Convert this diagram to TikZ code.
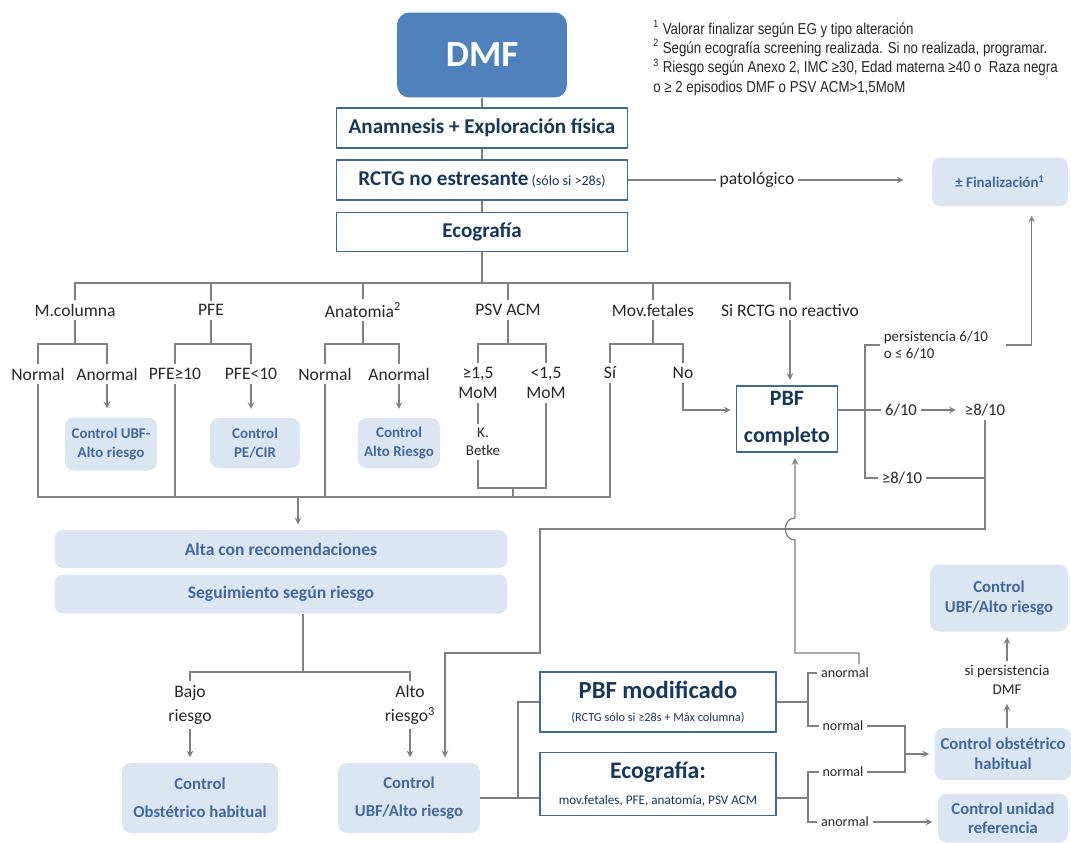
\documentclass[tikz,border=0pt]{standalone}
\usepackage{fontspec}
\setmainfont{Carlito}
\newfontfamily\narrowfont[FakeStretch=0.84]{Liberation Sans}
\usepackage{tikz}
\definecolor{dmfblue}{RGB}{79,129,189}
\definecolor{navy}{RGB}{23,55,94}
\definecolor{boxline}{RGB}{60,110,145}
\definecolor{softfill}{RGB}{220,230,242}
\definecolor{softtext}{RGB}{66,104,160}
\definecolor{linegray}{RGB}{128,128,128}
\definecolor{txt}{RGB}{38,38,38}
\newcommand{\fsz}[2]{\fontsize{#1}{#2}\selectfont}
\tikzstyle{dmfbox}=[rounded corners=7pt,fill=dmfblue,text=white,font=\bfseries\fsz{21}{24}]
\tikzstyle{wbox}=[draw=boxline,line width=0.8pt,fill=white,text=navy,align=center]
\tikzstyle{sbox}=[rounded corners=5pt,fill=softfill,text=softtext,align=center]
\tikzstyle{lbl}=[text=txt,align=center,inner sep=2pt,font=\fsz{10}{12}]
\tikzstyle{ln}=[draw=linegray,line width=0.7pt]
\tikzstyle{arr}=[ln,->,>=stealth,shorten >=3pt]

\begin{document}
\begin{tikzpicture}[x=0.02cm,y=-0.02cm]
    \useasboundingbox (0,0) rectangle (1071,842);
    \node[dmfbox,minimum width=3.4cm,minimum height=1.7cm] (dmf) at (482,55) {DMF};
    \node[wbox,minimum width=5.82cm,minimum height=0.8cm,font=\bfseries\fsz{12}{14}] (anam) at (482,128) {Anamnesis + Exploración física};
    \node[wbox,minimum width=5.82cm,minimum height=0.8cm,font=\bfseries\fsz{12}{14}] (rctg) at (482,180) {RCTG no estresante{\mdseries\fsz{8}{10} (sólo si >28s)}};
    \node[wbox,minimum width=5.82cm,minimum height=0.78cm,font=\bfseries\fsz{12}{14}] (eco) at (482,232) {Ecografía};
    \node[sbox,minimum width=2.72cm,minimum height=0.98cm,font=\bfseries\fsz{8.5}{10}] (fin) at (1000,182) {± Finalización\textsuperscript{1}};
    \node[anchor=north west,align=left,inner sep=0pt,text=txt,font=\narrowfont\fsz{9}{11}] (notes) at (653,20)
        {\textsuperscript{1} Valorar finalizar según EG y tipo alteración\\
         \textsuperscript{2} Según ecografía screening realizada. Si no realizada, programar.\\
         \textsuperscript{3} Riesgo según Anexo 2, IMC ≥30, Edad materna ≥40 o \ Raza negra\\
         o ≥ 2 episodios DMF o PSV ACM>1,5MoM};

    \node[lbl] (pat) at (757,180) {patológico};
    \node[lbl] (mcol) at (75,310) {M.columna};
    \node[lbl] (pfe) at (211,310) {PFE};
    \node[lbl] (anat) at (363,310) {Anatomia\textsuperscript{2}};
    \node[lbl] (psv) at (508,310) {PSV ACM};
    \node[lbl] (mov) at (653,310) {Mov.fetales};
    \node[lbl] (nrct) at (790,310) {Si RCTG no reactivo};

    \node[lbl] (nor1) at (38,374) {Normal};
    \node[lbl] (anor1) at (107,374) {Anormal};
    \node[lbl] (pfeA) at (175,374) {PFE≥10};
    \node[lbl] (pfeB) at (251,374) {PFE<10};
    \node[lbl] (nor2) at (325,374) {Normal};
    \node[lbl] (anor2) at (399,374) {Anormal};
    \node[lbl,font=\fsz{10}{11.5}] (momA) at (478,383) {≥1,5\\MoM};
    \node[lbl,font=\fsz{10}{11.5}] (momB) at (546,383) {<1,5\\MoM};
    \node[lbl,font=\fsz{8.5}{10.5}] (kb) at (483,442) {K.\\Betke};
    \node[lbl] (si) at (610,373) {Sí};
    \node[lbl] (no) at (683,373) {No};

    \node[sbox,minimum width=1.84cm,minimum height=1.06cm,font=\bfseries\fsz{8.5}{11}] (cA) at (111,444) {Control UBF-\\Alto riesgo};
    \node[sbox,minimum width=1.8cm,minimum height=1cm,font=\bfseries\fsz{8.5}{11}] (cB) at (255,443) {Control\\PE/CIR};
    \node[sbox,minimum width=1.64cm,minimum height=1cm,font=\bfseries\fsz{8.5}{11}] (cC) at (399,443) {Control\\Alto Riesgo};

    \node[wbox,minimum width=2.02cm,minimum height=1.3cm,font=\bfseries\fsz{12.5}{21}] (pbf) at (787,419) {PBF\\completo};
    \node[lbl,anchor=west,align=left,font=\fsz{8.5}{9.5}] (pers) at (880,345) {persistencia 6/10\\o ≤ 6/10};
    \node[lbl,font=\fsz{9.5}{11}] (s6) at (901,410) {6/10};
    \node[lbl,font=\fsz{9.5}{11}] (s8a) at (985,410) {≥8/10};
    \node[lbl,font=\fsz{9.5}{11}] (s8b) at (902,478) {≥8/10};

    \node[sbox,minimum width=9.06cm,minimum height=0.76cm,font=\bfseries\fsz{10}{12}] (alta) at (281,549) {Alta con recomendaciones};
    \node[sbox,minimum width=9.06cm,minimum height=0.78cm,font=\bfseries\fsz{10}{12}] (seg) at (281,594) {Seguimiento según riesgo};
    \node[lbl,font=\fsz{10}{14}] (bajo) at (190,705) {Bajo\\riesgo};
    \node[lbl,font=\fsz{10}{14}] (alto) at (410,705) {Alto\\riesgo\textsuperscript{3}};
    \node[sbox,minimum width=3.12cm,minimum height=1.4cm,font=\bfseries\fsz{9.5}{16}] (cobs) at (200,798) {Control\\Obstétrico habitual};
    \node[sbox,minimum width=2.84cm,minimum height=1.4cm,font=\bfseries\fsz{9.5}{16}] (cubf) at (409,798) {Control\\UBF/Alto riesgo};

    \node[wbox,minimum width=4.72cm,minimum height=1.2cm,font=\fsz{7}{13}] (pbfm) at (658,702) {{\bfseries\fsz{14}{17}PBF modificado}\\(RCTG sólo si ≥28s + Máx columna)};
    \node[wbox,minimum width=4.72cm,minimum height=1.26cm,font=\fsz{7.5}{15}] (ecom) at (658,784) {{\bfseries\fsz{13.5}{16}Ecografía:}\\mov.fetales, PFE, anatomía, PSV ACM};
    \node[lbl,font=\fsz{8}{10}] (an1) at (845,673) {anormal};
    \node[lbl,font=\fsz{8}{10}] (no1) at (843,726) {normal};
    \node[lbl,font=\fsz{8}{10}] (no2) at (843,772) {normal};
    \node[lbl,font=\fsz{8}{10}] (an2) at (845,822) {anormal};
    \node[sbox,minimum width=2.76cm,minimum height=1.34cm,font=\bfseries\fsz{9.5}{11.5}] (cubfR) at (999,598) {Control\\UBF/Alto riesgo};
    \node[lbl,font=\fsz{8.5}{11}] (sip) at (1007,680) {si persistencia\\DMF};
    \node[sbox,minimum width=2.6cm,minimum height=1.04cm,font=\bfseries\fsz{9.5}{11.5}] (cobh) at (1003,754) {Control obstétrico\\habitual};
    \node[sbox,minimum width=2.6cm,minimum height=0.98cm,font=\bfseries\fsz{9.5}{11}] (cref) at (1003,818) {Control unidad\\referencia};

    \coordinate (top) at (482,283);
    \coordinate (sb) at (0,344);
    \coordinate (mb) at (298,497);
    \coordinate (pj) at (513,488);
    \coordinate (bx) at (865,0);
    \coordinate (ja) at (540,529);
    \coordinate (jb) at (445,653);
    \coordinate (hx) at (795,653);
    \coordinate (sj) at (303,672);
    \coordinate (lx) at (518,0);
    \coordinate (rx) at (808,0);
    \coordinate (nx) at (905,0);

    \draw[ln] (dmf.south) -- (anam.north);
    \draw[ln] (anam.south) -- (rctg.north);
    \draw[ln] (rctg.south) -- (eco.north);
    \draw[ln] (eco.south) -- (top);
    \draw[ln] (mcol.north) |- (top) -| (nrct.north);
    \foreach \n in {pfe,anat,psv,mov}
        \draw[ln] (\n.north) -- (\n.north |- top);
    \foreach \src/\one/\two in {mcol/nor1/anor1,pfe/pfeA/pfeB,anat/nor2/anor2,psv/momA/momB,mov/si/no} {
        \draw[ln] (\src.south) -- (\src.south |- sb);
        \draw[ln] (\one.north) |- (\src.south |- sb) -| (\two.north);
    }
    \draw[ln] (rctg.east) -- (pat.west);
    \draw[arr,shorten >=16pt] (pat.east) -- (fin.west |- pat.east);

    \draw[ln] (nor1.south) |- (mb);
    \draw[ln] (si.south) |- (mb);
    \draw[ln] (pfeA.south) -- (pfeA.south |- mb);
    \draw[ln] (nor2.south) -- (nor2.south |- mb);
    \draw[arr] (mb) -- (alta.north -| mb);
    \draw[arr,shorten >=5pt] (anor1.south) -- (cA.north -| anor1.south);
    \draw[arr,shorten >=5pt] (pfeB.south) -- (cB.north -| pfeB.south);
    \draw[arr,shorten >=5pt] (anor2.south) -- (cC.north -| anor2.south);
    \draw[ln] (momA.south) -- (momA.south |- kb.north);
    \draw[ln] (momA.south |- kb.south) |- (pj) -| (momB.south);
    \draw[ln] (pj) -- (pj |- mb);

    \draw[arr] (no.south) |- (pbf.west |- s6.west);
    \draw[arr] (nrct.south) -- (nrct.south |- pbf.north);
    \draw[ln] (pbf.east |- s6.west) -- (s6.west);
    \draw[ln] (pers.west) -- (pers.west -| bx) |- (s8b.west);
    \draw[arr] (s6.east) -- (s8a.west);
    \draw[arr,shorten >=5pt] ([xshift=8pt]pers.east) -| ([xshift=18pt]fin.south);
    \draw[ln] (s8b.east) -- (s8b.east -| s8a.south);
    \draw[arr] (s8a.south) |- (ja) |- (jb) -- (jb |- cubf.north);
    \draw[arr] ([xshift=8pt]an1.north) |- (hx) -- (795,540) to[out=180,in=180,looseness=1.5] (795,518) -- (pbf.south -| hx);

    \draw[ln] (seg.south -| sj) -- (sj);
    \draw[ln] (bajo.north) |- (sj) -| (alto.north);
    \draw[arr] (bajo.south) -- (cobs.north -| bajo.south);
    \draw[arr] (alto.south) -- (cubf.north -| alto.south);
    \draw[ln] (cubf.east) -- (cubf.east -| ecom.west);
    \draw[ln] (cubf.east -| lx) |- (pbfm.west);

    \draw[ln] (pbfm.east) -- (pbfm.east -| rx);
    \draw[ln] (an1.west) -- (an1.west -| rx) |- (no1.west);
    \draw[ln] (ecom.east |- cubf.east) -- (cubf.east -| rx);
    \draw[ln] (no2.west) -- (no2.west -| rx) |- (an2.west);
    \draw[ln] (no1.east) -- (no1.east -| nx) |- (no2.east);
    \draw[arr] (cobh.west -| nx) -- (cobh.west);
    \draw[arr] (an2.east) -- (cref.west |- an2.east);
    \draw[arr] (cobh.north -| sip.south) -- (sip.south);
    \draw[arr] (sip.north) -- (cubfR.south -| sip.north);
\end{tikzpicture}
\end{document}
